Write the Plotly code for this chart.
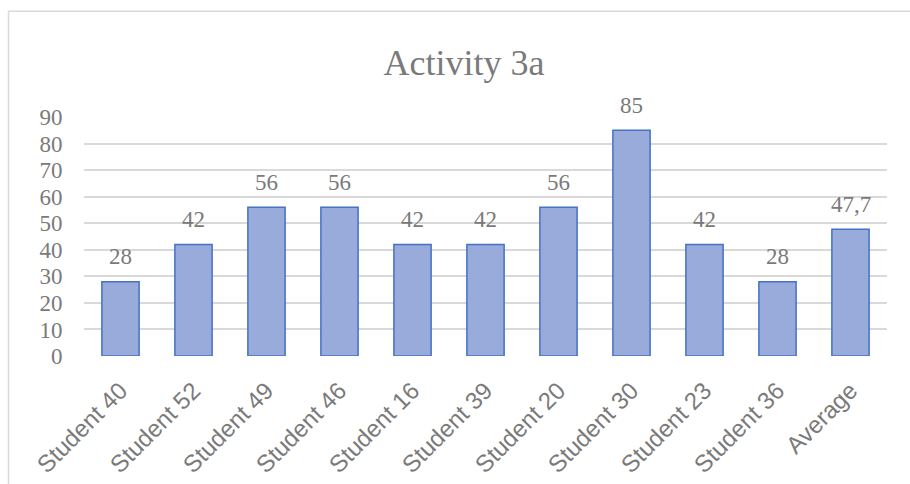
import plotly.graph_objects as go

# Scores for Activity 3a, per student plus the class average
categories = ["Student 40", "Student 52", "Student 49", "Student 46", "Student 16",
              "Student 39", "Student 20", "Student 30", "Student 23", "Student 36", "Average"]
scores = [28, 42, 56, 56, 42, 42, 56, 85, 42, 28, 47.7]
y_ticks = [0, 10, 20, 30, 40, 50, 60, 70, 80, 90]

# Labels use a decimal comma
labels = [f"{v:g}".replace(".", ",") for v in scores]

TEXT_GRAY = "#7a7a7a"
GRID = "#d9d9d9"
SERIF = "Liberation Serif, Times New Roman, serif"
SANS = "Liberation Sans, Arial, sans-serif"

fig = go.Figure()
fig.add_trace(go.Bar(
    x=categories,
    y=scores,
    marker=dict(color="#98abdb", line=dict(color="#4472c4", width=1.5)),
    hoverinfo="x+y",
))

# Value labels above each bar
for cat, val, lab in zip(categories, scores, labels):
    fig.add_annotation(
        x=cat, y=val, text=lab, showarrow=False,
        yanchor="middle", yshift=25,
        font=dict(family=SERIF, size=23, color=TEXT_GRAY),
    )

# Light chart-area frame
fig.add_shape(
    type="rect", xref="paper", yref="paper",
    x0=-0.094, x1=1.05, y0=-0.6, y1=1.4426,
    line=dict(color=GRID, width=1.5), fillcolor="rgba(0,0,0,0)", layer="below",
)

fig.update_layout(
    width=910, height=484,
    margin=dict(l=84, r=23, t=116.5, b=128, autoexpand=False),
    paper_bgcolor="white", plot_bgcolor="white",
    bargap=0.49,
    showlegend=False,
    title=dict(
        text="Activity 3a", x=464 / 910, xanchor="center",
        y=1 - 62 / 484, yanchor="middle", yref="container",
        font=dict(family=SERIF, size=36, color=TEXT_GRAY),
    ),
    xaxis=dict(
        tickangle=-45, automargin=False,
        tickfont=dict(family=SANS, size=24, color=TEXT_GRAY),
        showgrid=False, showline=False, zeroline=False,
        ticks="outside", ticklen=10, tickcolor="rgba(0,0,0,0)",
    ),
    yaxis=dict(
        range=[0, 90], tickvals=y_ticks, automargin=False,
        tickfont=dict(family=SERIF, size=23, color=TEXT_GRAY),
        showgrid=True, gridcolor=GRID, gridwidth=1.5,
        zeroline=False, showline=False,
        ticks="outside", ticklen=16, tickcolor="rgba(0,0,0,0)",
    ),
)

fig.write_html("out.html")
